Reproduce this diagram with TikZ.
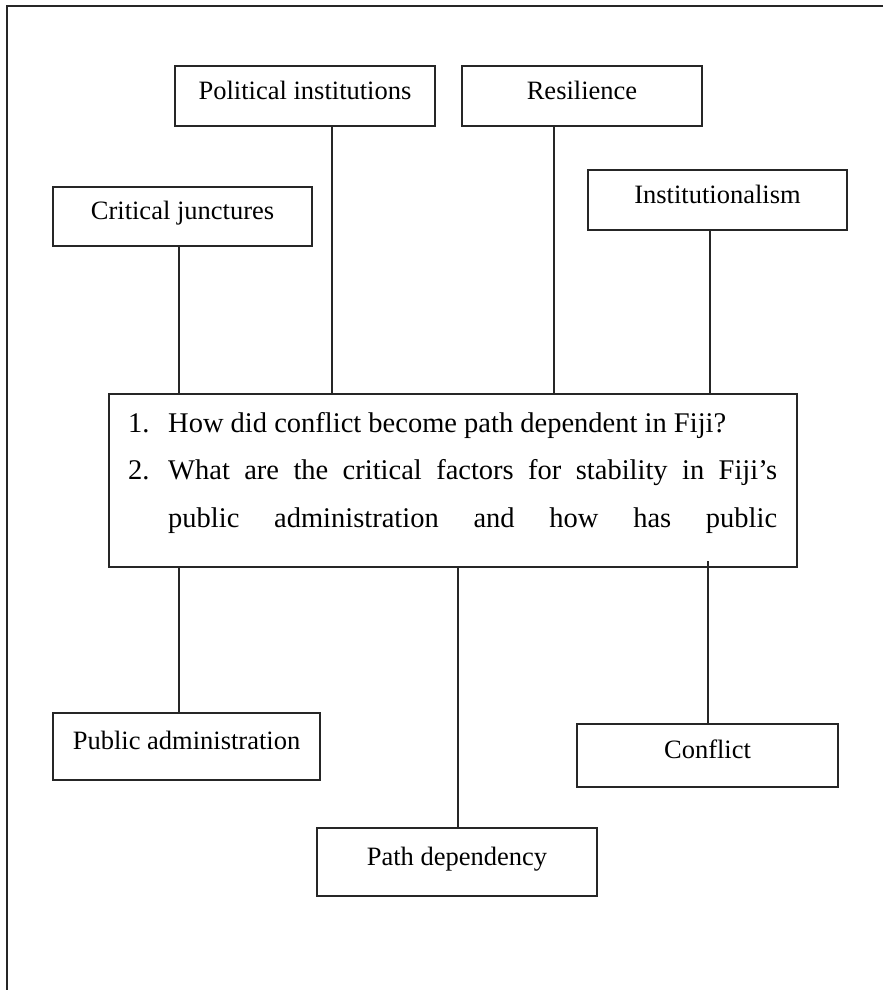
\documentclass[tikz,border=0pt]{standalone}
\usepackage{fontspec}
\setmainfont{Liberation Serif}
\begin{document}
\begin{tikzpicture}[x=1pt,y=-1pt,
  rule/.style={line width=1.6pt, draw=black!85},
  conceptbox/.style={rule, rectangle, inner sep=0pt,
    font=\fontsize{26.5}{30}\selectfont, text height=18pt, text depth=12pt},
  qline/.style={inner sep=0pt, anchor=base west,
    font=\fontsize{28.5}{47}\selectfont},
  link/.style={rule}]
\useasboundingbox (0,0) rectangle (883,990);

% page frame (top and left edges)
\draw[rule] (883,6) -- (7,6) -- (7,990);

% concept boxes above the questions
\node[conceptbox, minimum width=260, minimum height=60] (pi) at (305,96) {Political institutions};
\node[conceptbox, minimum width=240, minimum height=60] (rs) at (582,96) {Resilience};
\node[conceptbox, minimum width=259, minimum height=59] (cj) at (182.5,216.5) {Critical junctures};
\node[conceptbox, minimum width=259, minimum height=60] (in) at (717.5,200) {Institutionalism};

% central box with the research questions
\node[rule, rectangle, inner sep=0pt, minimum width=688, minimum height=173] (q) at (453,480.5) {};
\node[qline] (n1) at (128,432) {1.};
\node[qline] (l1) at (168,432) {How did conflict become path dependent in Fiji?};
\node[qline] (n2) at (128,479) {2.};
\node[qline] (l2) at (168,479) {\makebox[609pt][s]{What are the critical factors for stability in Fiji’s}};
\node[qline] (l3) at (168,527) {\makebox[609pt][s]{public administration and how has public}};

% concept boxes below the questions
\node[conceptbox, minimum width=267, minimum height=67] (pa) at (186.5,746.5) {Public administration};
\node[conceptbox, minimum width=261, minimum height=63] (cf) at (707.5,755.5) {Conflict};
\node[conceptbox, minimum width=280, minimum height=68] (pd) at (457,862) {Path dependency};

% connectors
\draw[link] ([xshift=-3.5pt]cj.south) -- ([xshift=-3.5pt]cj.south |- q.north);
\draw[link] ([xshift=27pt]pi.south) -- ([xshift=27pt]pi.south |- q.north);
\draw[link] ([xshift=-28pt]rs.south) -- ([xshift=-28pt]rs.south |- q.north);
\draw[link] ([xshift=-7.5pt]in.south) -- ([xshift=-7.5pt]in.south |- q.north);
\draw[link] ([xshift=-7.5pt]pa.north) -- ([xshift=-7.5pt]pa.north |- q.south);
\draw[link] ([xshift=1pt]pd.north) -- ([xshift=1pt]pd.north |- q.south);
\draw[link] ([xshift=0.5pt]cf.north) -- ([xshift=0.5pt,yshift=7pt]cf.north |- q.south);
\end{tikzpicture}
\end{document}
